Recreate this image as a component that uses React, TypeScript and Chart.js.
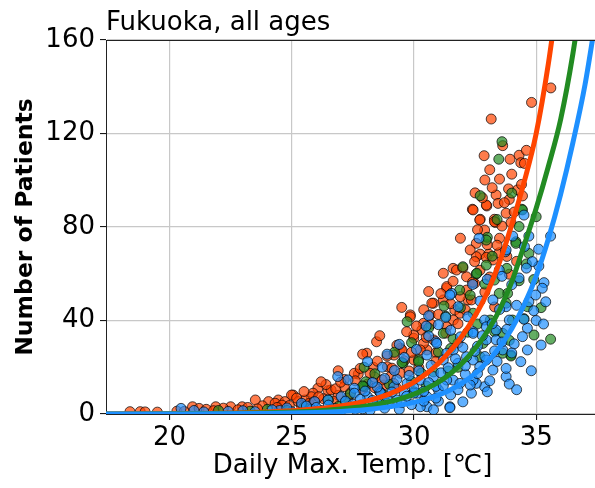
import React, { useEffect, useRef } from "react";
import { Chart, registerables } from "chart.js";

Chart.register(...registerables);

const titleText = "Fukuoka, all ages";
const xAxisLabel = "Daily Max. Temp. [℃]";
const yAxisLabel = "Number of Patients";
const xTickValues = [20, 25, 30, 35];
const yTickValues = [0, 40, 80, 120, 160];
const xRange = [17.4, 37.57];
const yRange = [0, 160];

// scatter points: [daily max temperature, number of patients]
const orangePoints: number[][] = [
  [35.6, 139.5], [34.81, 133.3], [33.16, 126.2], [32.87, 110.5], [33.63, 114.8], [33.93, 109], [34.3, 110.7],
  [34.37, 107.5], [34.52, 107.2], [32.9, 100.1], [33.87, 96.3], [33.36, 93.7], [34.44, 93.3], [34.24, 95.9],
  [33.9, 91.8], [32.39, 87.6], [32.98, 89], [33.44, 90.1], [32.71, 83.3], [33.29, 83.3], [33.33, 81.9],
  [33.6, 80.4], [32.89, 78.7], [33.97, 81.9], [32.55, 73], [33.5, 75.2], [32.71, 68.4], [33.06, 68.4],
  [32.55, 67.3], [32.42, 87.3], [32.69, 83], [32.96, 89.4], [33.29, 82.3], [33.77, 85.9], [32.96, 67],
  [33.23, 65.9], [33.49, 69], [31.6, 62.3], [31.74, 61.6], [32.48, 65.2], [32.15, 58.7], [32.48, 55.9],
  [31.34, 53.8], [30.8, 47.4], [32.21, 48.8], [30.66, 42.4], [29.85, 42.4], [30.32, 35.9], [29.99, 32.4],
  [30.53, 27.4], [31.34, 54.5], [30.73, 47.4], [31.2, 48.8], [32.15, 53], [32.35, 48.8], [31.67, 44.5],
  [30.39, 38.8], [29.99, 33.8], [29.45, 28.1], [29.18, 25.2], [28.91, 20.2], [28.47, 30.9], [28.07, 26],
  [29.51, 27.4], [30.39, 30.2], [30.8, 31.7], [31.34, 37.3], [31.61, 40.2], [31.88, 43.1], [29.85, 41.6],
  [30.0, 23.1], [30.26, 27.4], [28.34, 20], [27.72, 17.1], [27.15, 14.8], [29.45, 17.4], [29.04, 16],
  [28.4, 15.7], [26.07, 11], [26.48, 10], [25.87, 8.9], [25.06, 8.1], [27.15, 11.7], [28.77, 12.4],
  [29.17, 13.1], [27.56, 17.4], [26.61, 10.3], [25.8, 7.4], [25.53, 6], [25.26, 5.3], [23.51, 6],
  [24.45, 6], [24.99, 8.1], [24.05, 5.3], [24.32, 4.6], [24.72, 5.3], [20.94, 3.1], [21.89, 3.1],
  [22.5, 3.1], [22.97, 3.1], [21.21, 2.4], [18.38, 1], [18.8, 1], [21.5, 2], [22.2, 2.5], [23.2, 2.8],
  [23.8, 3.5], [24.6, 3.8], [25.7, 4.5], [26.3, 6.5], [26.9, 8], [27.4, 9], [27.9, 10.5], [28.6, 9.5],
  [29.3, 11], [26.7, 5.5], [25.4, 3.5], [20.3, 1.2], [19.5, 0.8],
  [24.9, 3.6], [25.2, 6.8], [25.5, 9.6], [25.9, 5.2], [26.1, 7.4], [26.4, 12.6], [26.8, 10.8], [27.0, 13.6],
  [27.3, 6.8], [27.6, 14.2], [27.8, 19.5], [28.1, 12.8], [28.2, 17.4], [28.5, 22.6], [28.7, 14.6], [28.9, 24.8],
  [29.1, 19.6], [29.3, 29.4], [29.6, 22.8], [29.7, 35.2], [29.9, 26.4], [30.1, 37.6], [30.2, 19.8], [30.4, 44.6],
  [30.5, 32.8], [30.7, 38.4], [30.9, 26.2], [31.0, 42.6], [31.1, 51.5], [31.3, 34.6], [31.5, 47.2], [31.6, 56.8],
  [31.8, 38.6], [31.9, 50.2], [32.0, 62.5], [32.1, 44.6], [32.3, 70.2], [32.4, 56.4], [32.6, 78.8], [32.7, 61.5],
  [32.8, 92.5], [33.0, 72.4], [33.1, 58.6], [33.2, 96.8], [33.4, 72.2], [33.5, 100.5], [33.7, 90.4], [33.8, 67.4],
  [34.0, 102.6], [34.1, 86.4], [34.4, 98.2], [34.6, 112.8], [33.1, 104.5], [32.5, 94.6], [31.9, 75.2], [31.2, 60.2],
  [30.6, 52.4], [29.5, 45.6], [28.6, 33.5], [27.9, 25.6], [26.9, 18.5], [26.2, 13.8], [22.8, 1.8], [23.6, 2.2],
  [24.4, 2.8], [21.8, 1.4], [20.6, 1.1], [19.0, 0.9], [31.8, 30.4], [30.9, 22.6], [29.8, 18.4], [28.4, 11.2],
  [33.3, 45.8], [32.9, 52.2], [34.2, 65.3], [33.9, 59.8],
];

const greenPoints: number[][] = [
  [33.6, 116.5], [33.47, 109], [32.71, 93.4], [34.41, 87.6], [35.0, 84.4], [33.0, 75.6], [34.17, 73.7],
  [34.7, 68.7], [32.55, 59.9], [32.96, 63.7], [31.87, 53], [31.23, 46.2], [29.72, 39.5], [30.19, 23.1],
  [33.97, 25.2], [33.63, 34.5], [34.3, 57], [35.59, 32], [34.91, 33.8], [33.97, 24.8], [34.64, 45.9],
  [33.83, 51.6], [27.96, 20], [28.03, 13.8], [29.55, 21.7], [27.96, 11.7], [32.57, 60.2], [32.96, 74.4],
  [34.17, 73], [34.44, 87.3], [34.03, 40.2], [29.51, 22], [30.19, 22.4], [31.2, 34.5], [32.0, 63],
  [33.29, 57.3], [33.49, 51.6], [33.77, 47.4], [32.42, 43.1], [33.12, 40.2], [33.63, 26], [32.82, 30.2],
  [27.9, 12], [26.5, 6], [25.5, 3], [28.8, 8], [29.9, 14], [30.8, 18], [31.5, 28], [32.2, 35], [22, 1.5],
  [24, 2], [27.2, 5], [30.5, 12], [31.8, 20],
  [28.4, 17.2], [29.0, 12.6], [29.2, 26.4], [29.9, 30.5], [30.3, 17.5], [30.6, 36.8], [31.0, 26.5], [31.3, 41.8],
  [31.6, 32.2], [31.9, 45.5], [32.3, 50.8], [32.6, 38.5], [32.9, 55.6], [33.2, 67.5], [33.4, 83.2], [33.8, 62.3],
  [34.0, 94.5], [34.3, 80.2], [34.6, 64.2], [34.9, 57.5], [35.2, 45.5], [34.5, 40.8], [33.3, 35.2], [33.9, 31.5],
  [32.7, 24.5], [31.4, 18.4], [30.0, 9.5], [28.6, 5.5], [27.4, 8.6], [26.9, 3.2], [24.8, 1.5], [23.3, 1.2],
];

const bluePoints: number[][] = [
  [34.5, 85.1], [32.66, 75.2], [34.04, 76.1], [34.7, 76.1], [35.59, 76.1], [33.74, 69.4], [34.52, 71.6],
  [31.54, 51.6], [31.81, 45.9], [30.9, 30.9], [31.34, 26], [31.8, 21.7], [32.42, 23.1], [32.96, 23.1],
  [33.23, 18.8], [33.77, 16], [32.89, 11.7], [32.35, 8.9], [31.47, 3.1], [30.53, 3.1], [31.0, 10.3],
  [31.6, 14.5], [30.12, 8.9], [32.55, 13.1], [33.63, 27.4], [32.96, 31.7], [33.77, 45.9], [33.36, 35.9],
  [33.9, 40.2], [33.23, 48.8], [32.89, 40.2], [32.42, 35.2], [35.32, 56.2], [35.25, 53.8], [35.39, 48],
  [34.98, 50.9], [34.7, 48], [35.11, 63.3], [34.84, 65.2], [34.64, 36.7], [34.44, 33.1], [34.64, 27.4],
  [34.37, 22.4], [33.77, 19.5], [28.7, 20], [26.88, 16], [27.56, 11], [28.6, 9.5], [31.47, 50.9],
  [33.77, 70.2], [33.49, 61.6], [32.42, 34.5], [32.96, 37.3], [33.36, 31.7], [30.93, 30.2], [31.61, 27.4],
  [30.53, 25.2], [31.2, 23.1], [32.15, 24.5], [32.69, 20.2], [32.42, 14.5], [31.88, 13.1], [31.34, 14.5],
  [30.8, 16], [30.26, 14.5], [29.72, 13.1], [29.18, 11.7], [28.64, 8.9], [28.1, 7.4], [27.56, 8.9],
  [27.02, 7.4], [26.48, 6], [25.94, 5.3], [25.4, 4.6], [29.99, 8.9], [30.53, 7.4], [31.47, 2.7],
  [30.26, 3.1], [28.91, 4.6], [29.31, 6], [28.5, 4.6], [27.83, 3.9], [27.29, 3.1], [26.75, 2.4],
  [20.47, 2.4], [23.5, 1], [24.5, 1.5], [25.0, 1], [25.8, 2], [26.2, 1.5], [27.0, 1.2], [27.6, 2],
  [28.2, 1.5], [28.8, 2.5], [29.4, 2], [29.9, 4], [30.4, 5.5], [31.0, 5.5], [29.6, 9], [30.9, 11.8],
  [32.1, 17], [33.3, 27], [34.1, 30], [35.0, 40], [32.6, 29], [31.9, 33],
  [27.2, 5.5], [27.5, 4.2], [27.8, 6.3], [28.0, 9.8], [28.3, 5.8], [28.5, 11.5], [28.9, 7.2], [29.1, 9.4],
  [29.3, 14.8], [29.5, 4.9], [29.7, 7.6], [29.8, 16.5], [30.0, 11.2], [30.2, 18.5], [30.4, 9.7], [30.6, 13.4],
  [30.7, 20.8], [30.9, 6.8], [31.1, 17.6], [31.2, 12.1], [31.4, 19.8], [31.5, 8.2], [31.7, 23.6], [31.8, 10.4],
  [32.0, 28.5], [32.1, 20.6], [32.3, 12.4], [32.5, 26.8], [32.6, 17.3], [32.8, 33.5], [32.9, 24.6], [33.1, 14.2],
  [33.2, 38.6], [33.4, 22.5], [33.5, 44.7], [33.6, 30.8], [33.8, 36.2], [34.0, 26.1], [34.2, 46.5], [34.3, 58.2],
  [34.5, 40.5], [34.6, 62.4], [34.9, 44.2], [35.1, 70.5], [35.3, 38.5], [34.0, 55.3], [33.6, 58.9], [32.7, 48.3],
  [32.2, 41.6], [31.5, 35.8], [31.0, 38.2], [30.6, 33.4], [30.1, 27.6], [29.6, 24.2], [29.2, 18.6], [28.8, 15.2],
  [28.3, 13.5], [27.9, 2.2], [26.5, 3.8], [26.0, 2.8], [25.6, 3.4], [24.8, 2.6], [24.2, 1.8], [23.0, 1.4],
  [22.4, 1.1], [21.4, 0.9], [21.0, 1.5], [30.8, 1.8], [32.0, 5.2], [33.0, 9.5], [33.9, 12.8], [34.8, 18.5],
  [35.2, 29.5], [34.2, 10.4], [31.3, 41.4], [30.5, 37.6], [29.4, 29.8], [28.9, 25.6], [28.1, 22.4], [27.3, 14.6],
  [30.6, 42], [32.4, 55.4], [33.0, 57.6],
];

// fitted curves
const orangeCurveT = [17.4, 20, 22, 24, 25, 26, 27, 28, 28.5, 29, 29.5, 30, 30.5, 31, 31.5, 32, 32.5, 33, 33.5, 34, 34.5, 35, 35.5, 36];
const orangeCurveV = [0.05, 0.15, 0.37, 0.9, 1.4, 2.2, 3.45, 5.4, 6.8, 8.6, 10.9, 13.6, 17.2, 21.6, 27.2, 33.8, 42, 52, 65, 81, 99, 120, 150, 188];
const greenCurveT = [17.4, 20, 22, 24, 25, 26, 27, 28, 29, 29.5, 30, 30.5, 31, 31.5, 32, 32.5, 33, 33.5, 34, 34.5, 35, 35.5, 36, 36.5, 37];
const greenCurveV = [0.03, 0.085, 0.21, 0.52, 0.82, 1.3, 2.1, 3.3, 5.3, 6.7, 8.5, 10.8, 13.6, 17.3, 22, 28, 35.3, 44.5, 56.5, 72, 88, 106, 126, 154, 190];
const blueCurveT = [17.4, 20, 22, 24, 25, 26, 27, 28, 29, 29.5, 30, 30.5, 31, 31.5, 32, 32.5, 33, 33.5, 34, 34.5, 35, 35.5, 36, 36.5, 37, 37.6];
const blueCurveV = [0.01, 0.035, 0.09, 0.25, 0.41, 0.68, 1.12, 1.85, 3.05, 3.9, 5, 6.4, 8.1, 10.4, 13.4, 17.3, 22.3, 28.6, 36.5, 46.5, 59, 75, 94, 116, 141, 180];

const FONT = "'DejaVu Sans', sans-serif";

const toXY = (pts: number[][]) => pts.map((p) => ({ x: p[0], y: p[1] }));
const curveXY = (t: number[], v: number[]) => t.map((x, i) => ({ x, y: v[i] }));

const frame = {
  id: "frame",
  afterDraw(chart: any) {
    const { ctx, chartArea } = chart;
    ctx.save();
    ctx.strokeStyle = "#222";
    ctx.lineWidth = 1;
    ctx.beginPath();
    ctx.moveTo(chartArea.left, chartArea.top + 0.5);
    ctx.lineTo(chartArea.right, chartArea.top + 0.5);
    ctx.stroke();
    ctx.fillStyle = "#000";
    ctx.font = `26px ${FONT}`;
    ctx.textAlign = "left";
    ctx.textBaseline = "alphabetic";
    ctx.fillText(titleText, chartArea.left, 30);
    ctx.restore();
  },
};

export default function App() {
  const ref = useRef<HTMLCanvasElement>(null);
  useEffect(() => {
    if (!ref.current) return;
    const scatterCommon = {
      type: "scatter" as const,
      pointRadius: 5,
      borderWidth: 1,
      borderColor: "rgba(0,0,0,0.7)",
      pointHoverRadius: 5,
    };
    const lineCommon = {
      type: "line" as const,
      pointRadius: 0,
      borderWidth: 5,
      fill: false,
      cubicInterpolationMode: "monotone" as const,
      clip: 0,
    };
    const chart = new Chart(ref.current, {
      type: "scatter",
      data: {
        datasets: [
          { ...scatterCommon, label: "orange", data: toXY(orangePoints), backgroundColor: "rgba(255,69,0,0.7)", order: 5 },
          { ...scatterCommon, label: "green", data: toXY(greenPoints), backgroundColor: "rgba(34,139,34,0.7)", order: 4 },
          { ...scatterCommon, label: "blue", data: toXY(bluePoints), backgroundColor: "rgba(30,144,255,0.7)", order: 3 },
          { ...lineCommon, label: "orange fit", data: curveXY(orangeCurveT, orangeCurveV), borderColor: "#FF4500", order: 2 },
          { ...lineCommon, label: "green fit", data: curveXY(greenCurveT, greenCurveV), borderColor: "#228B22", order: 1 },
          { ...lineCommon, label: "blue fit", data: curveXY(blueCurveT, blueCurveV), borderColor: "#1E90FF", order: 0 },
        ] as any,
      },
      options: {
        responsive: false,
        animation: false,
        layout: { padding: { top: 40, right: 0, bottom: 0, left: 0 } },
        plugins: { legend: { display: false }, tooltip: { enabled: false }, title: { display: false } },
        scales: {
          x: {
            type: "linear",
            min: xRange[0],
            max: xRange[1],
            afterBuildTicks: (s: any) => {
              s.ticks = xTickValues.map((v) => ({ value: v }));
            },
            afterFit: (s: any) => {
              s.height = 74;
            },
            ticks: { font: { family: FONT, size: 26 }, color: "#000", padding: 3, maxRotation: 0 },
            grid: { color: "#c8c8c8", lineWidth: 1.2, tickColor: "#000", tickLength: 6, tickWidth: 1 },
            border: { display: true, color: "#222", width: 1 },
            title: { display: true, text: xAxisLabel, font: { family: FONT, size: 26 }, color: "#000", padding: { top: 2, bottom: 6 } },
          },
          y: {
            type: "linear",
            min: yRange[0],
            max: yRange[1],
            afterBuildTicks: (s: any) => {
              s.ticks = yTickValues.map((v) => ({ value: v }));
            },
            afterFit: (s: any) => {
              s.width = 106;
            },
            ticks: { font: { family: FONT, size: 26 }, color: "#000", padding: 5 },
            grid: { color: "#c8c8c8", lineWidth: 1.2, tickColor: "#000", tickLength: 6, tickWidth: 1 },
            border: { display: true, color: "#222", width: 1 },
            title: { display: true, text: yAxisLabel, font: { family: FONT, size: 23.5, weight: "bold" }, color: "#000", padding: { top: 12, bottom: 0 } },
          },
        },
      } as any,
      plugins: [frame],
    });
    return () => chart.destroy();
  }, []);

  return (
    <div style={{ position: "absolute", left: 0, top: 0, width: 595, height: 488, overflow: "hidden", background: "#fff" }}>
      <canvas ref={ref} width={605} height={488} style={{ width: 605, height: 488, display: "block" }} />
    </div>
  );
}
